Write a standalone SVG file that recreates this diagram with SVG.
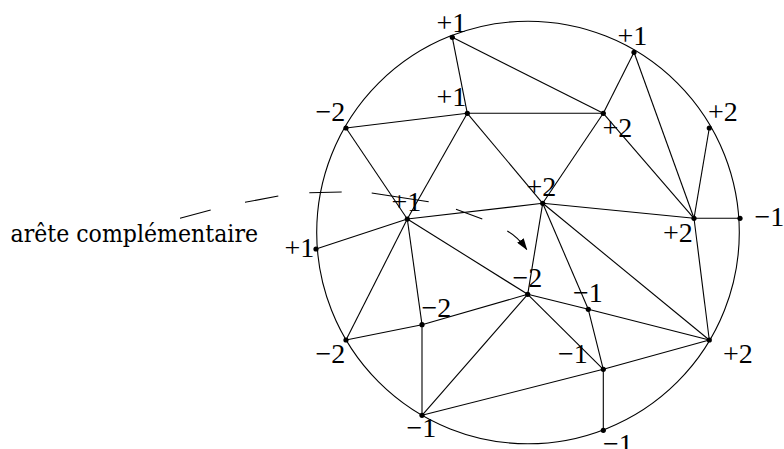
<svg xmlns="http://www.w3.org/2000/svg" width="784" height="449" viewBox="0 0 784 449">
<defs>
<style>
.e{stroke:#000;stroke-width:1.1;fill:none}
.d{fill:#000}
</style>
<marker id="ah" viewBox="0 0 12 8" refX="11" refY="4" markerWidth="12" markerHeight="8" markerUnits="userSpaceOnUse" orient="auto">
<path d="M0,0 L12,4 L0,8 Z" fill="#000"/>
</marker>
</defs>
<rect width="784" height="449" fill="#fff"/>
<circle cx="528" cy="232.5" r="211.3" class="e"/>
<g id="connectors" class="e">
<line x1="452.3" y1="37.3" x2="467.3" y2="113.3"/>
<line x1="452.3" y1="37.3" x2="603.3" y2="113.3"/>
<line x1="467.3" y1="113.3" x2="346" y2="128"/>
<line x1="467.3" y1="113.3" x2="603.3" y2="113.3"/>
<line x1="467.3" y1="113.3" x2="407.3" y2="219"/>
<line x1="467.3" y1="113.3" x2="542.7" y2="203.3"/>
<line x1="346" y1="128" x2="407.3" y2="219"/>
<line x1="634" y1="52.3" x2="603.3" y2="113.3"/>
<line x1="634" y1="52.3" x2="694" y2="218.3"/>
<line x1="603.3" y1="113.3" x2="542.7" y2="203.3"/>
<line x1="603.3" y1="113.3" x2="694" y2="218.3"/>
<line x1="709.3" y1="128" x2="694" y2="218.3"/>
<line x1="694" y1="218.3" x2="740" y2="218.3"/>
<line x1="542.7" y1="203.3" x2="694" y2="218.3"/>
<line x1="694" y1="218.3" x2="709.3" y2="340"/>
<line x1="542.7" y1="203.3" x2="407.3" y2="219"/>
<line x1="407.3" y1="219" x2="316" y2="249"/>
<line x1="407.3" y1="219" x2="346" y2="340"/>
<line x1="407.3" y1="219" x2="422" y2="324.7"/>
<line x1="407.3" y1="219" x2="527.7" y2="294.3"/>
<line x1="542.7" y1="203.3" x2="527.7" y2="294.3"/>
<line x1="542.7" y1="203.3" x2="588.3" y2="309.3"/>
<line x1="542.7" y1="203.3" x2="709.3" y2="340"/>
<line x1="588.3" y1="309.3" x2="603.3" y2="369.3"/>
<line x1="527.7" y1="294.3" x2="588.3" y2="309.3"/>
<line x1="588.3" y1="309.3" x2="709.3" y2="340"/>
<line x1="527.7" y1="294.3" x2="603.3" y2="369.3"/>
<line x1="527.7" y1="294.3" x2="422" y2="415.3"/>
<line x1="527.7" y1="294.3" x2="422" y2="324.7"/>
<line x1="346" y1="340" x2="422" y2="324.7"/>
<line x1="422" y1="324.7" x2="422" y2="415.3"/>
<line x1="422" y1="415.3" x2="603.3" y2="369.3"/>
<line x1="603.3" y1="369.3" x2="709.3" y2="340"/>
<line x1="603.3" y1="369.3" x2="603.3" y2="430.3"/>
<path d="M180,218.3 L210.7,210 M245,202.3 L278.3,196 M309.3,192.7 L341.7,192 M371.7,193 L428.7,201.7 M456,209.3 L482.3,219"/>
<path d="M507.3,231 Q518,237 526.7,249.5" marker-end="url(#ah)"/>
</g>
<g font-family="Liberation Serif, serif" font-size="28" fill="#000">
<g id="n1"><circle cx="452.3" cy="37.3" r="2.6" class="d"/><text x="436.5" y="31.5">+1</text></g>
<g id="n2"><circle cx="467.3" cy="113.3" r="2.6" class="d"/><text x="436.5" y="106">+1</text></g>
<g id="n3"><circle cx="346" cy="128" r="2.6" class="d"/><text x="315.5" y="120.5">−2</text></g>
<g id="n4"><circle cx="634" cy="52.3" r="2.6" class="d"/><text x="617.5" y="45">+1</text></g>
<g id="n5"><circle cx="603.3" cy="113.3" r="2.6" class="d"/><text x="602.5" y="136.5">+2</text></g>
<g id="n6"><circle cx="709.3" cy="128" r="2.6" class="d"/><text x="708" y="120.5">+2</text></g>
<g id="n7"><circle cx="694" cy="218.3" r="2.6" class="d"/><text x="663" y="241.5">+2</text></g>
<g id="n8"><circle cx="740" cy="218.3" r="2.6" class="d"/><text x="754.5" y="226">−1</text></g>
<g id="n9"><circle cx="542.7" cy="203.3" r="2.6" class="d"/><text x="526.5" y="196">+2</text></g>
<g id="n10"><circle cx="407.3" cy="219" r="2.6" class="d"/><text x="391.5" y="210.5">+1</text></g>
<g id="n11"><circle cx="316" cy="249" r="2.6" class="d"/><text x="284.5" y="257">+1</text></g>
<g id="n12"><circle cx="346" cy="340" r="2.6" class="d"/><text x="315.5" y="362.5">−2</text></g>
<g id="n13"><circle cx="422" cy="324.7" r="2.6" class="d"/><text x="421.5" y="316.5">−2</text></g>
<g id="n14"><circle cx="527.7" cy="294.3" r="2.6" class="d"/><text x="512.5" y="286.5">−2</text></g>
<g id="n15"><circle cx="588.3" cy="309.3" r="2.6" class="d"/><text x="573" y="301.5">−1</text></g>
<g id="n16"><circle cx="603.3" cy="369.3" r="2.6" class="d"/><text x="558" y="362.5">−1</text></g>
<g id="n17"><circle cx="709.3" cy="340" r="2.6" class="d"/><text x="723" y="363">+2</text></g>
<g id="n18"><circle cx="603.3" cy="430.3" r="2.6" class="d"/><text x="603" y="453">−1</text></g>
<g id="n19"><circle cx="422" cy="415.3" r="2.6" class="d"/><text x="406.5" y="437">−1</text></g>
</g>
<g id="label"><text x="10.5" y="241.5" font-family="DejaVu Serif, serif" font-size="24" fill="#000" textLength="247.5" lengthAdjust="spacingAndGlyphs">arête complémentaire</text></g>
</svg>
